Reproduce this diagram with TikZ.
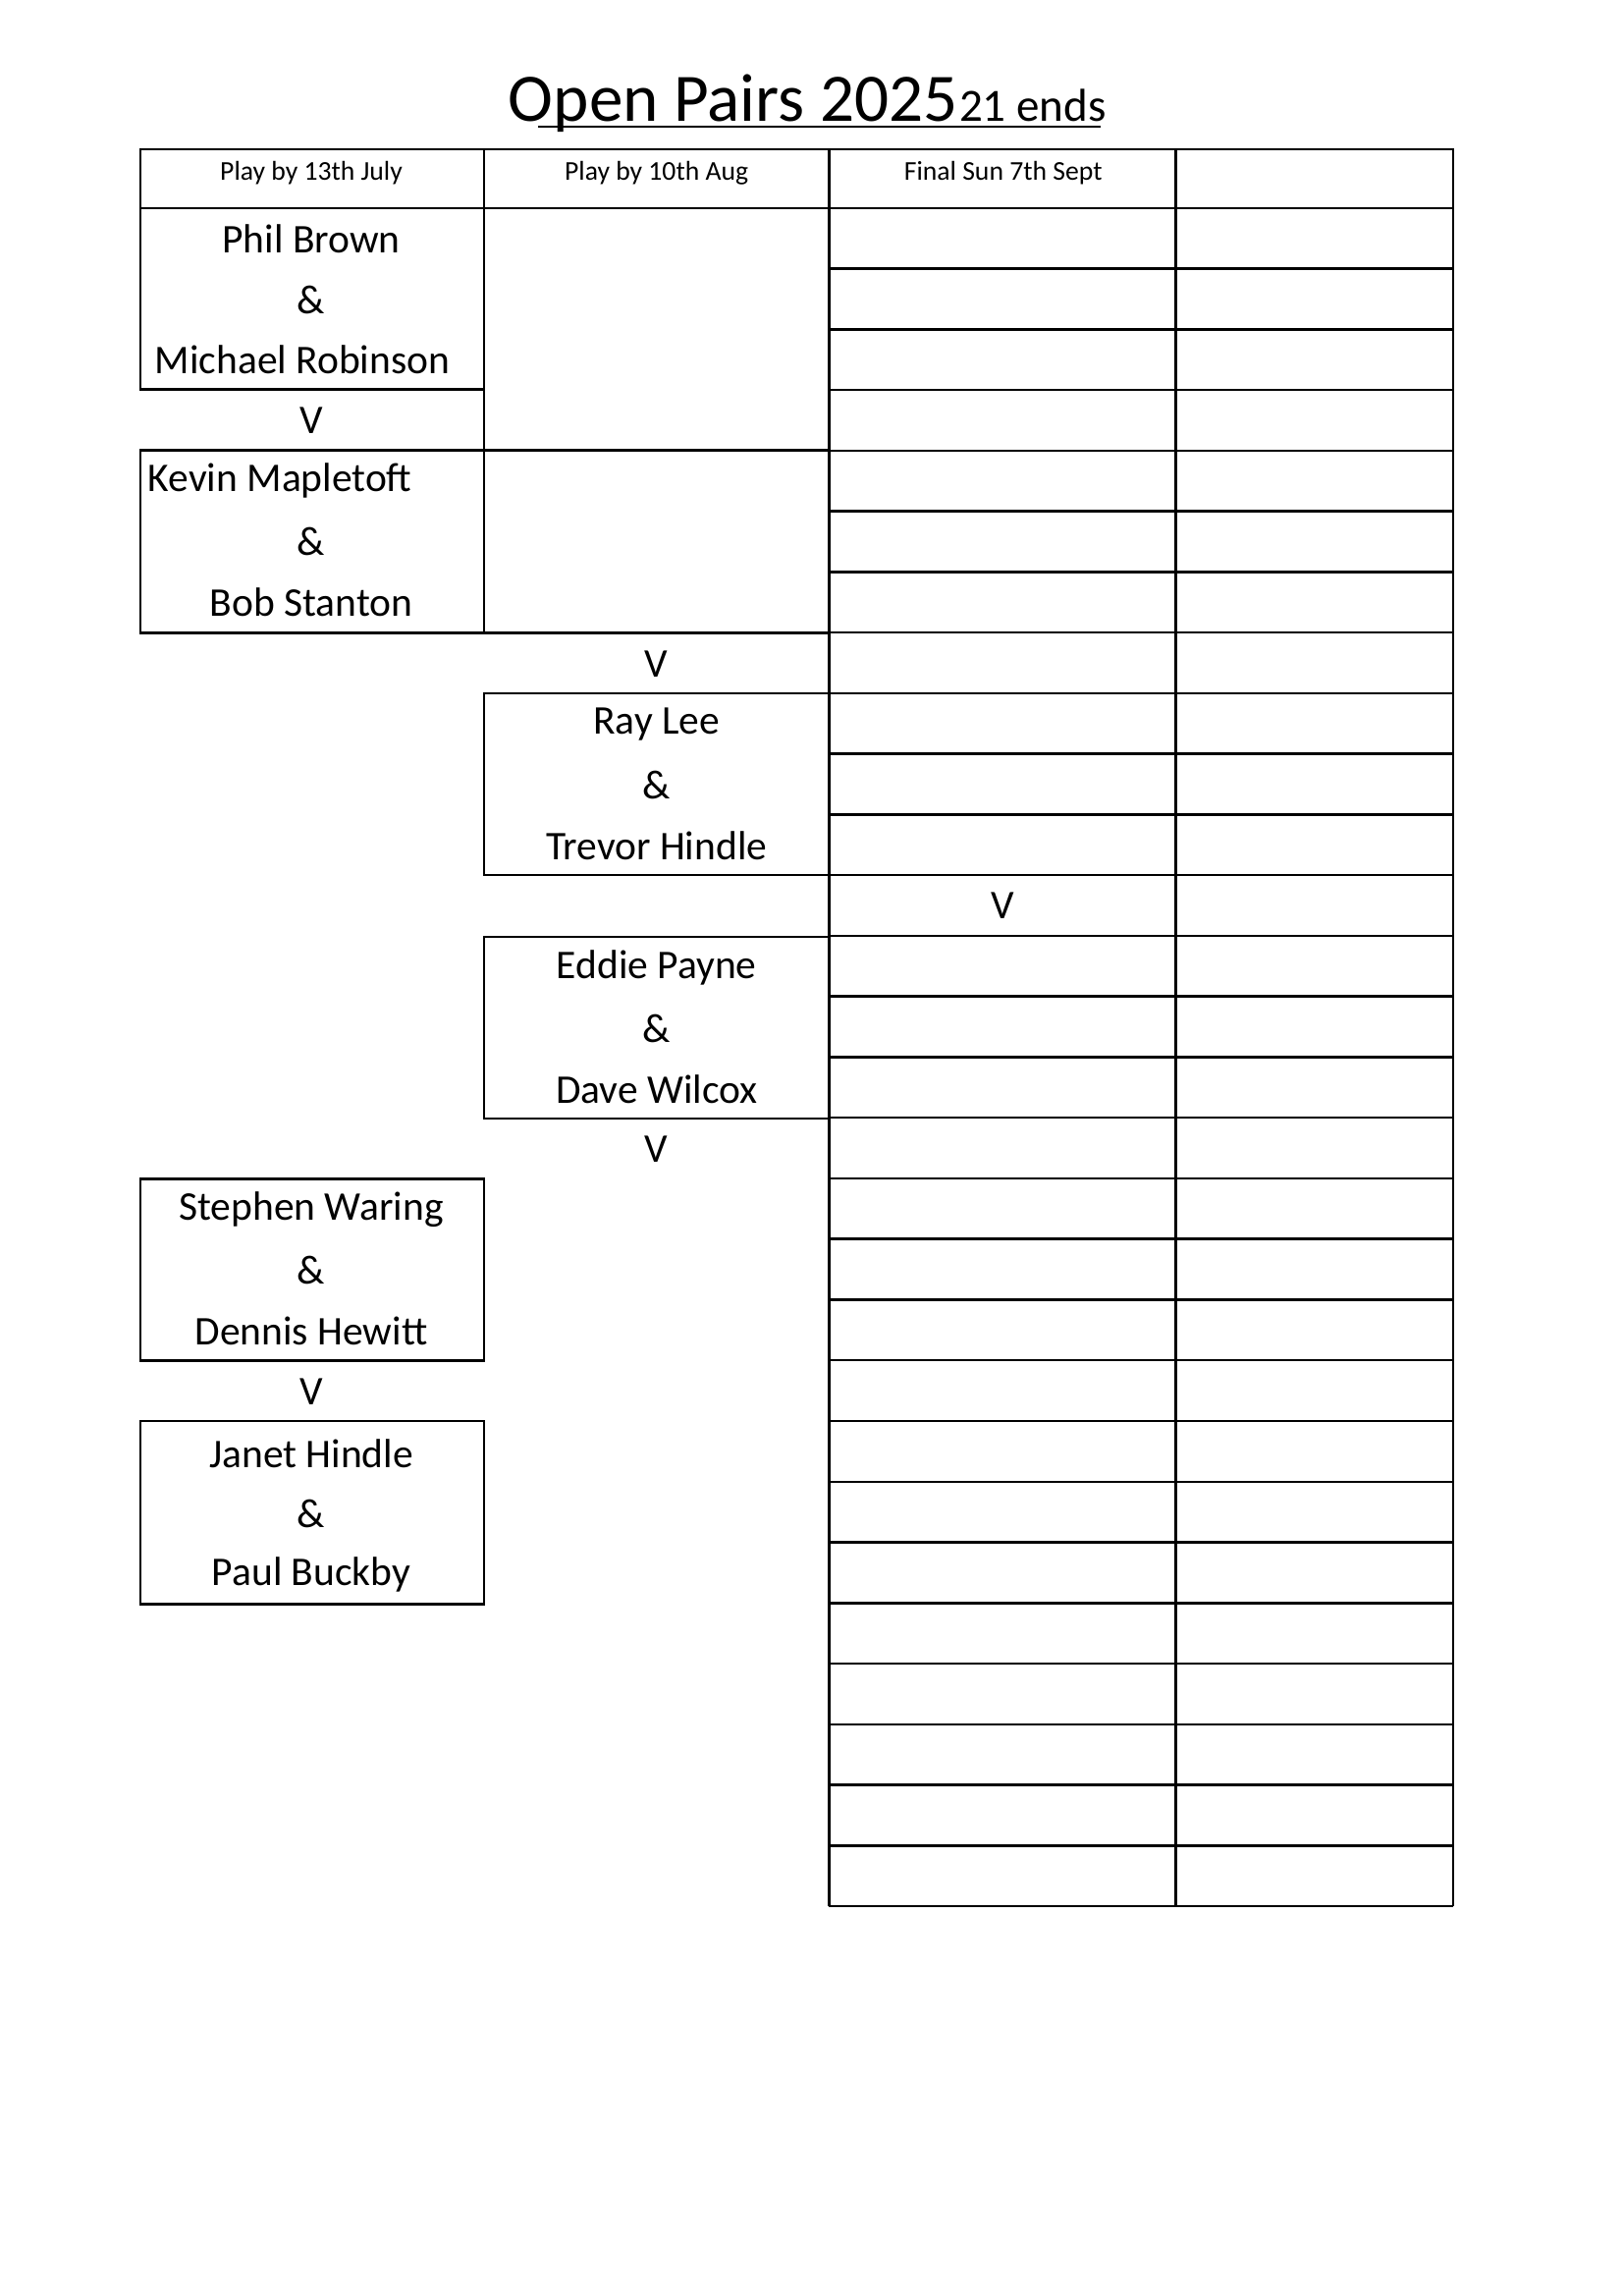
\documentclass[tikz,border=0pt]{standalone}
\usepackage{fontspec}
\setmainfont{Carlito}
\usetikzlibrary{positioning}

\tikzset{
  pairtext/.style={font=\fontsize{15}{18}\selectfont, inner sep=0pt},
  headtext/.style={font=\fontsize{10}{12}\selectfont, inner sep=0pt},
  rule/.style={line width=0.9pt},
}

\begin{document}
\begin{tikzpicture}[x=0.01909cm, y=-0.01909cm]
\useasboundingbox (0,0) rectangle (1100,1556);

% Title
\node[font=\fontsize{25}{30}\selectfont, inner sep=0pt, anchor=base] (title) at (497,82) {Open Pairs 2025};
\node[font=\fontsize{17}{20}\selectfont, inner sep=0pt, anchor=base] (ends) at (700,82) {21 ends};
\draw[line width=0.7pt] (365,86) -- (746,86);

% Header row
\draw[rule] (95,101) rectangle (985,141);
\foreach \x in {328,562,797} \draw[rule] (\x,101) -- (\x,141);
\node[headtext] (h1) at (211,117) {Play by 13th July};
\node[headtext] (h2) at (445,117) {Play by 10th Aug};
\node[headtext] (h3) at (680,117) {Final Sun 7th Sept};

% Right-hand score grid
\foreach \r in {0,...,28} \draw[rule] (562,141+41.1*\r) -- (985,141+41.1*\r);
\foreach \x in {562,797,985} \draw[rule] (\x,141) -- (\x,1292);

% First round boxes
\draw[rule] (95,141) rectangle (328,264);
\draw[rule] (95,305) rectangle (328,429);
\draw[rule] (95,799) rectangle (328,922);
\draw[rule] (95,963) rectangle (328,1087);
% Second round boxes
\draw[rule] (328,141) rectangle (562,429);
\draw[rule] (328,305) -- (562,305);
\draw[rule] (328,470) rectangle (562,593);
\draw[rule] (328,635) rectangle (562,758);

% Names
\node[pairtext] (p1a) at (211,162) {Phil Brown};
\node[pairtext] (p1b) at (211,203) {\&};
\node[pairtext] (p1c) at (205,244) {Michael Robinson};
\node[pairtext] (v1) at (211,285) {V};
\node[pairtext, anchor=west] (p2a) at (100,326) {Kevin Mapletoft};
\node[pairtext] (p2b) at (211,367) {\&};
\node[pairtext] (p2c) at (211,408) {Bob Stanton};
\node[pairtext] (v2) at (445,450) {V};
\node[pairtext] (p3a) at (445,491) {Ray Lee};
\node[pairtext] (p3b) at (445,532) {\&};
\node[pairtext] (p3c) at (445,573) {Trevor Hindle};
\node[pairtext] (v3) at (680,614) {V};
\node[pairtext] (p4a) at (445,656) {Eddie Payne};
\node[pairtext] (p4b) at (445,697) {\&};
\node[pairtext] (p4c) at (445,738) {Dave Wilcox};
\node[pairtext] (v4) at (445,779) {V};
\node[pairtext] (p5a) at (211,820) {Stephen Waring};
\node[pairtext] (p5b) at (211,861) {\&};
\node[pairtext] (p5c) at (211,902) {Dennis Hewitt};
\node[pairtext] (v5) at (211,943) {V};
\node[pairtext] (p6a) at (211,985) {Janet Hindle};
\node[pairtext] (p6b) at (211,1026) {\&};
\node[pairtext] (p6c) at (211,1067) {Paul Buckby};
\end{tikzpicture}
\end{document}
